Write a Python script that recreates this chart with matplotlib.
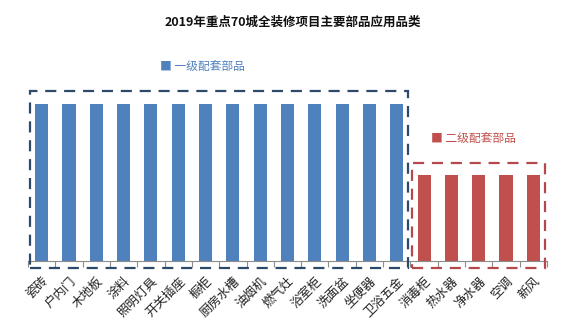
import matplotlib
matplotlib.use("Agg")
import matplotlib.pyplot as plt
from matplotlib.patches import Rectangle
import numpy as np

plt.rcParams['font.family'] = ['Noto Sans CJK SC', 'DejaVu Sans']

title = "2019年重点70城全装修项目主要部品应用品类"
primary_items = ["瓷砖", "户内门", "木地板", "涂料", "照明灯具", "开关插座", "橱柜",
                 "厨房水槽", "油烟机", "燃气灶", "浴室柜", "洗面盆", "坐便器", "卫浴五金"]
secondary_items = ["消毒柜", "热水器", "净水器", "空调", "新风"]
primary_values = [1.0] * len(primary_items)
secondary_values = [0.55] * len(secondary_items)
primary_label = "一级配套部品"
secondary_label = "二级配套部品"

blue = "#4F81BD"
red = "#C0504D"

W, H = 585, 334
fig = plt.figure(figsize=(W / 100, H / 100), dpi=100)
ax_left, ax_right, ax_bottom = 28, 547, 261
ymax = 1.1
unit_px = 157
ax_h = ymax * unit_px
ax = fig.add_axes([ax_left / W, (H - ax_bottom) / H, (ax_right - ax_left) / W, ax_h / H])

labels = primary_items + secondary_items
n1 = len(primary_items)
x1 = np.arange(n1)
x2 = np.arange(n1, n1 + len(secondary_items))
ax.bar(x1, primary_values, width=0.48, color=blue, zorder=2)
ax.bar(x2, secondary_values, width=0.48, color=red, zorder=2)

ax.set_xlim(-0.5, len(labels) - 0.5)
ax.set_ylim(0, ymax)
ax.set_yticks([])
for s in ["left", "right", "top"]:
    ax.spines[s].set_visible(False)
ax.spines["bottom"].set_color("#8c8c8c")
ax.spines["bottom"].set_linewidth(0.8)

ax.set_xticks(np.arange(len(labels)))
ax.set_xticklabels(labels, rotation=45, ha="right", va="top", rotation_mode="anchor",
                   fontsize=9, color="#222222")
ax.tick_params(axis="x", which="major", length=0, pad=10)
ax.set_xticks(np.arange(-0.5, len(labels)), minor=True)
ax.tick_params(axis="x", which="minor", length=4, color="#8c8c8c", width=0.8)

# dashed group boxes
def px_to_y(py):
    return (ax_bottom - py) / unit_px

def px_to_x(px):
    step = (ax_right - ax_left) / len(labels)
    return (px - ax_left) / step - 0.5

ax.add_patch(Rectangle((px_to_x(30), px_to_y(268)), px_to_x(408) - px_to_x(30),
                       px_to_y(91) - px_to_y(268), fill=False, edgecolor="#2E4A6B",
                       linestyle=(0, (5, 3.5)), linewidth=1.6, clip_on=False, zorder=3))
ax.add_patch(Rectangle((px_to_x(412), px_to_y(268)), px_to_x(545) - px_to_x(412),
                       px_to_y(163) - px_to_y(268), fill=False, edgecolor="#B5484C",
                       linestyle=(0, (5, 3.5)), linewidth=1.6, clip_on=False, zorder=3))

fig.text(0.5, 1 - 22 / H, title, ha="center", va="center", fontsize=9, fontweight="bold",
         color="#111111")
fig.text(160 / W, 1 - 67 / H, "■ " + primary_label, ha="left", va="center", fontsize=8.5,
         color=blue)
fig.text(431 / W, 1 - 139 / H, "■ " + secondary_label, ha="left", va="center", fontsize=8.5,
         color=red)

fig.savefig("out.png", dpi=100)
